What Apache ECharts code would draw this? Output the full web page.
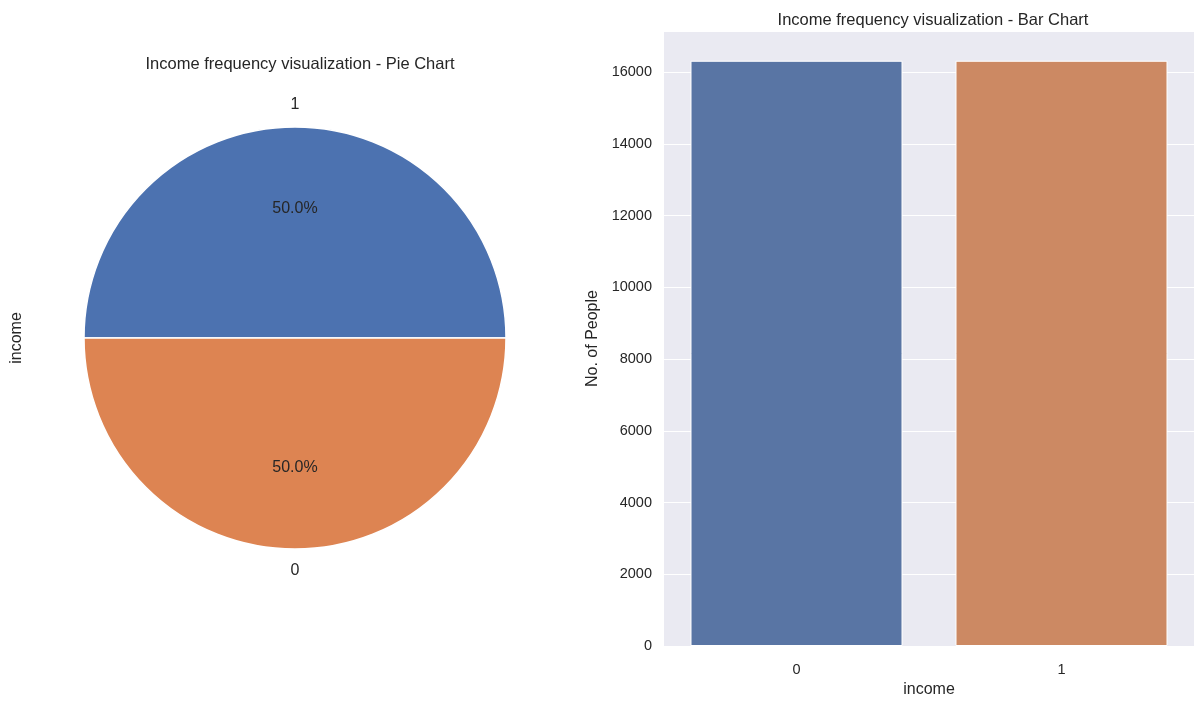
<!DOCTYPE html>
<html>
<head>
<meta charset="utf-8">
<script src="https://cdn.jsdelivr.net/npm/echarts@6/dist/echarts.min.js"></script>
<style>
  html, body { margin: 0; padding: 0; background: #fff; }
  #chart { width: 1203px; height: 704px; }
</style>
</head>
<body>
<div id="chart"></div>
<script>
// income counts
var pieNames = ['1', '0'];
var pieValues = [16320, 16320];
var pieColors = ['#4C72B0', '#DD8452'];

var barCategories = ['0', '1'];
var barValues = [16320, 16320];
var barColors = ['#5975A4', '#CC8963'];

var yTicks = { min: 0, max: 17150, interval: 2000 };

var font = 'Liberation Sans, Arial, sans-serif';
var textColor = '#262626';

var pieR = 211;
var pieCenter = [295, 338];

var pieData = pieNames.map(function (n, i) {
    return { name: n, value: pieValues[i], itemStyle: { color: pieColors[i] } };
});
var ghostData = pieNames.map(function (n, i) {
    return { name: n, value: pieValues[i] };
});

var myChart = echarts.init(document.getElementById('chart'));

var option = {
    animation: false,
    backgroundColor: '#fff',
    textStyle: { fontFamily: font, color: textColor },
    title: [
        {
            text: 'Income frequency visualization - Pie Chart',
            left: 295, top: 51, textAlign: 'center',
            textStyle: { fontSize: 16.5, fontWeight: 'normal', color: textColor, fontFamily: font }
        },
        {
            text: 'Income frequency visualization - Bar Chart',
            left: 928, top: 7, textAlign: 'center',
            textStyle: { fontSize: 16.5, fontWeight: 'normal', color: textColor, fontFamily: font }
        }
    ],
    graphic: [{
        type: 'text',
        x: 17, y: 338,
        rotation: Math.PI / 2,
        style: {
            text: 'income', fill: textColor, font: '16px ' + font,
            align: 'center', verticalAlign: 'middle'
        }
    }],
    grid: {
        left: 664, right: 9, top: 31, bottom: 58,
        show: true, backgroundColor: '#EAEAF2', borderWidth: 0
    },
    xAxis: {
        type: 'category',
        data: barCategories,
        name: 'income',
        nameLocation: 'middle',
        nameGap: 35,
        nameTextStyle: { fontSize: 16, color: textColor },
        axisLine: { show: false },
        axisTick: { show: false },
        axisLabel: { fontSize: 14.5, color: textColor, margin: 16 },
        splitLine: { show: false }
    },
    yAxis: {
        type: 'value',
        min: yTicks.min, max: yTicks.max, interval: yTicks.interval,
        name: 'No. of People',
        nameLocation: 'middle',
        nameGap: 63,
        nameTextStyle: { fontSize: 16, color: textColor },
        axisLine: { show: false },
        axisTick: { show: false },
        axisLabel: {
            fontSize: 14.5, color: textColor, margin: 12, showMaxLabel: false,
            formatter: function (v) { return String(v); }
        },
        splitLine: { show: true, lineStyle: { color: '#fff', width: 1.2 } }
    },
    series: [
        {
            type: 'bar',
            data: barValues.map(function (v, i) {
                return { value: v, itemStyle: { color: barColors[i] } };
            }),
            barWidth: '80%',
            itemStyle: { borderColor: '#fff', borderWidth: 1 },
            z: 3
        },
        {
            type: 'pie',
            center: pieCenter,
            radius: [0, pieR],
            startAngle: 0,
            clockwise: false,
            data: pieData,
            label: { show: false },
            labelLine: { show: false },
            itemStyle: { borderColor: '#fff', borderWidth: 1.5 },
            emphasis: { disabled: true }
        },
        {
            // percent labels at 0.6 r
            type: 'pie',
            center: pieCenter,
            radius: [0, pieR * 1.2],
            startAngle: 0,
            clockwise: false,
            silent: true,
            data: ghostData,
            itemStyle: { color: 'rgba(0,0,0,0)' },
            label: {
                show: true, position: 'inside',
                fontSize: 16, color: textColor, fontFamily: font,
                formatter: function (p) { return p.percent.toFixed(1) + '%'; }
            },
            labelLine: { show: false },
            emphasis: { disabled: true }
        },
        {
            // name labels at 1.1 r
            type: 'pie',
            center: pieCenter,
            radius: [0, pieR * 2.18],
            startAngle: 0,
            clockwise: false,
            silent: true,
            data: ghostData,
            itemStyle: { color: 'rgba(0,0,0,0)' },
            label: {
                show: true, position: 'inside',
                fontSize: 16, color: textColor, fontFamily: font,
                formatter: '{b}'
            },
            labelLine: { show: false },
            emphasis: { disabled: true }
        }
    ]
};

myChart.setOption(option);
</script>
</body>
</html>
